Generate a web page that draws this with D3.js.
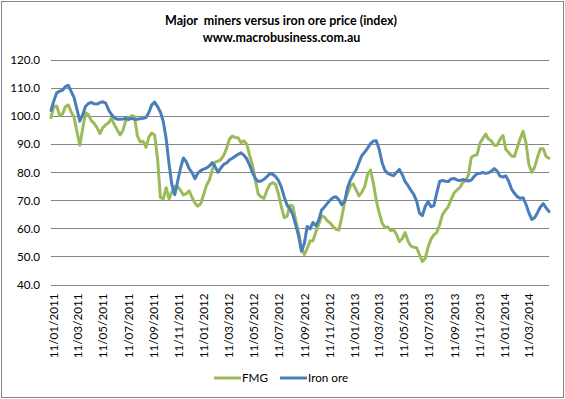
<!DOCTYPE html>
<html>
<head>
<meta charset="utf-8">
<script src="https://cdn.jsdelivr.net/npm/d3@7"></script>
<style>
  body { margin: 0; background: #fff; }
  text { font-family: Lato, "Open Sans", sans-serif; fill: #000; }
</style>
</head>
<body>
<div id="chart-area"></div>
<script>
// weekly readings, first week = 11/01/2011 (dd/mm/yyyy)
const firstWeek = "11/01/2011"

const tickLabels = ["11/01/2011", "11/03/2011", "11/05/2011", "11/07/2011", "11/09/2011", "11/11/2011",
  "11/01/2012", "11/03/2012", "11/05/2012", "11/07/2012", "11/09/2012", "11/11/2012",
  "11/01/2013", "11/03/2013", "11/05/2013", "11/07/2013", "11/09/2013", "11/11/2013",
  "11/01/2014", "11/03/2014"]

const yTicks = [40, 50, 60, 70, 80, 90, 100, 110, 120]

const fmg = [
  99.5, 103.5, 103.5, 100.2, 100.8, 103.3, 104.0, 101.5, 99.7, 94.5,
  89.6, 95.4, 101.2, 100.5, 98.4, 97.4, 95.8, 93.8, 95.9, 96.9,
  97.6, 99.2, 97.0, 95.1, 93.3, 95.0, 98.5, 98.8, 100.2, 99.8,
  93.0, 90.8, 91.0, 88.9, 92.5, 94.0, 93.3, 85.0, 71.0, 70.5,
  74.5, 70.5, 73.0, 75.0, 74.8, 73.6, 71.9, 72.4, 73.4, 71.0,
  69.0, 67.9, 68.8, 72.0, 75.3, 77.2, 80.7, 83.6, 83.9, 84.5,
  86.0, 88.5, 91.8, 92.9, 92.4, 92.3, 90.5, 91.2, 90.0, 86.0,
  82.5, 77.0, 72.2, 71.2, 70.7, 73.5, 75.6, 76.3, 75.8, 72.3,
  67.8, 63.8, 64.3, 68.3, 68.0, 62.9, 58.5, 53.2, 50.7, 52.8,
  55.5, 55.6, 58.7, 61.5, 64.5, 64.0, 62.7, 61.9, 60.6, 59.7,
  59.4, 63.9, 69.4, 72.3, 75.2, 75.8, 73.7, 71.6, 72.9, 75.0,
  79.3, 80.8, 76.0, 70.0, 65.6, 62.0, 60.3, 60.5, 59.2, 59.5,
  57.9, 55.3, 56.3, 58.5, 55.5, 53.7, 53.3, 53.1, 50.7, 48.2,
  49.3, 53.3, 56.2, 57.7, 58.5, 61.3, 64.9, 66.4, 67.7, 70.3,
  72.6, 73.7, 74.5, 76.3, 76.9, 79.0, 85.3, 86.0, 86.2, 90.3,
  92.0, 93.6, 91.8, 91.1, 89.6, 89.6, 91.8, 93.1, 88.2, 87.0,
  85.8, 85.6, 88.9, 92.0, 94.6, 90.5, 82.8, 80.0, 81.8, 85.3,
  88.4, 88.4, 85.6, 85.0
]

const ironOre = [
  102.0, 105.5, 108.3, 108.9, 109.2, 110.5, 111.0, 108.8, 106.7, 102.5,
  98.2, 100.5, 103.5, 104.5, 104.9, 104.4, 104.3, 104.8, 105.1, 104.6,
  102.3, 100.6, 99.4, 98.9, 98.9, 99.0, 99.2, 98.9, 99.2, 98.9,
  98.9, 99.1, 99.2, 99.5, 101.3, 104.0, 105.0, 103.4, 101.5, 98.1,
  92.0, 83.0, 75.5, 72.0, 76.8, 81.5, 85.1, 83.7, 81.3, 79.9,
  77.7, 79.7, 80.6, 81.1, 81.5, 82.2, 83.4, 82.0, 80.0, 81.5,
  82.8, 83.3, 84.4, 85.0, 85.7, 86.4, 86.9, 86.1, 84.8, 82.5,
  79.9, 77.8, 76.7, 76.9, 77.5, 78.4, 79.5, 79.3, 78.5, 77.1,
  74.8, 71.2, 68.3, 67.0, 64.9, 61.3, 57.4, 51.9, 54.6, 60.7,
  59.8, 62.1, 60.9, 62.9, 66.5, 67.6, 68.9, 70.1, 71.0, 71.3,
  70.2, 68.4, 69.6, 74.5, 77.2, 79.1, 80.8, 83.5, 86.0, 87.2,
  88.6, 90.2, 91.1, 91.2, 88.2, 83.5, 80.7, 79.6, 79.1, 78.8,
  79.9, 81.0, 79.2, 76.7, 75.3, 73.6, 72.1, 69.8, 65.4, 64.5,
  67.8, 69.6, 67.7, 68.1, 72.6, 76.7, 77.1, 76.8, 76.7, 77.6,
  77.8, 77.3, 77.0, 77.4, 77.2, 76.9, 77.2, 78.5, 79.5, 79.6,
  79.9, 79.6, 79.8, 80.4, 81.3, 80.4, 78.6, 78.3, 78.7, 76.8,
  74.0, 72.5, 71.3, 70.7, 70.9, 68.6, 65.6, 63.2, 63.8, 65.6,
  67.6, 68.8, 67.3, 66.0
]

const seriesNames = ["FMG", "Iron ore"]
const seriesColors = ["#9bbb59", "#4a7ebb"]

const W = 565, H = 399
const MARGIN = { LEFT: 51, RIGHT: 16, TOP: 60, BOTTOM: 114.5 }
const WIDTH = W - MARGIN.LEFT - MARGIN.RIGHT
const HEIGHT = H - MARGIN.TOP - MARGIN.BOTTOM

const parseDate = d3.timeParse("%d/%m/%Y")
const start = parseDate(firstWeek)
const weeks = fmg.map((d, i) => d3.timeWeek.offset(start, i))

const svg = d3.select("#chart-area").append("svg")
  .attr("width", W)
  .attr("height", H)

// chart border
svg.append("rect")
  .attr("x", 1.5).attr("y", 1.5)
  .attr("width", W - 3).attr("height", H - 3)
  .attr("fill", "#fff")
  .attr("stroke", "#868686")

// title
svg.append("text")
  .attr("x", 281).attr("y", 25)
  .attr("text-anchor", "middle")
  .attr("font-size", "12.5px")
  .attr("font-weight", "bold")
  .attr("xml:space", "preserve")
  .text("Major  miners versus iron ore price (index)")

svg.append("text")
  .attr("x", 281.5).attr("y", 41.5)
  .attr("text-anchor", "middle")
  .attr("font-size", "12.5px")
  .attr("font-weight", "bold")
  .text("www.macrobusiness.com.au")

const g = svg.append("g")
  .attr("transform", `translate(${MARGIN.LEFT}, ${MARGIN.TOP})`)

const x = d3.scaleTime()
  .domain([weeks[0], weeks[weeks.length - 1]])
  .range([0, WIDTH])

const y = d3.scaleLinear()
  .domain([40, 120])
  .range([HEIGHT, 0])

// gridlines
g.append("g")
  .attr("class", "grid")
  .selectAll("line")
  .data(yTicks)
  .enter().append("line")
    .attr("x1", 0).attr("x2", WIDTH)
    .attr("y1", d => Math.round(y(d)) + 0.5)
    .attr("y2", d => Math.round(y(d)) + 0.5)
    .attr("stroke", "#868686")

// Y axis labels
const yAxisCall = d3.axisLeft(y)
  .tickValues(yTicks)
  .tickSize(0)
  .tickPadding(11)
  .tickFormat(d3.format(".1f"))
const yAxis = g.append("g")
  .attr("class", "y axis")
  .call(yAxisCall)
yAxis.select(".domain").remove()
yAxis.selectAll("text")
  .attr("font-size", "11.7px")
  .attr("font-family", "Lato, sans-serif")
  .attr("fill", "#000")

// X axis labels (rotated)
g.append("g")
  .attr("class", "x axis")
  .selectAll("text")
  .data(tickLabels)
  .enter().append("text")
    .attr("transform", d => `translate(${x(parseDate(d)) + 3}, ${HEIGHT + 9}) rotate(-90)`)
    .attr("text-anchor", "end")
    .attr("dy", "0.35em")
    .attr("font-size", "11.7px")
    .text(d => d)

// lines
const line = d3.line()
  .x((d, i) => x(weeks[i]))
  .y(d => y(d))

const series = [fmg, ironOre]
series.forEach((values, k) => {
  g.append("path")
    .datum(values)
    .attr("fill", "none")
    .attr("stroke", seriesColors[k])
    .attr("stroke-width", 3)
    .attr("stroke-linejoin", "round")
    .attr("stroke-linecap", "round")
    .attr("d", line)
})

// legend
const legendX = [214, 280]
const legend = svg.append("g").attr("class", "legend")
seriesNames.forEach((name, k) => {
  legend.append("line")
    .attr("x1", legendX[k]).attr("x2", legendX[k] + 27)
    .attr("y1", 378).attr("y2", 378)
    .attr("stroke", seriesColors[k])
    .attr("stroke-width", 3)
  legend.append("text")
    .attr("x", legendX[k] + 28).attr("y", 382)
    .attr("font-size", "11.7px")
    .text(name)
})
</script>
</body>
</html>
